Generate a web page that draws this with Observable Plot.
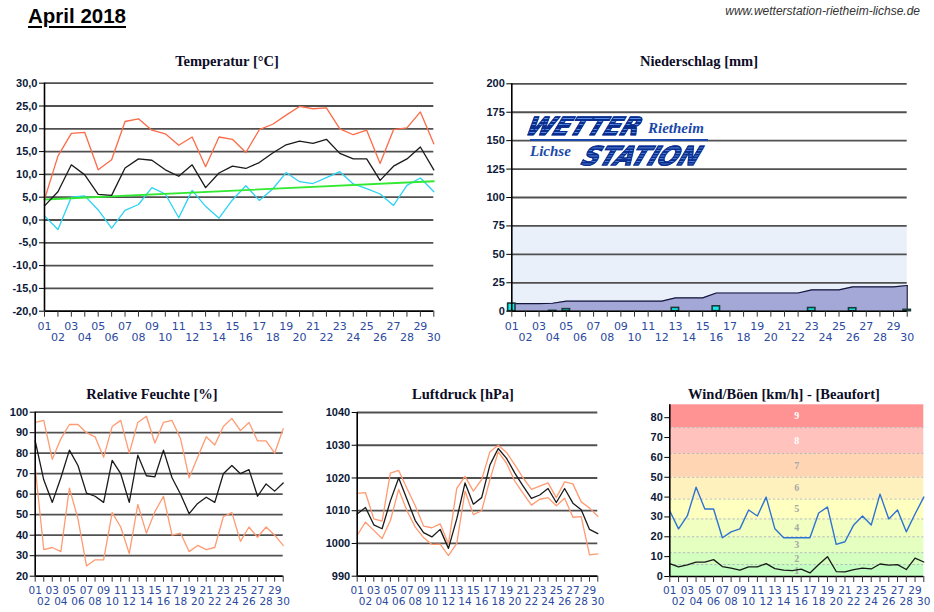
<!DOCTYPE html>
<html><head><meta charset="utf-8">
<script src="https://cdn.jsdelivr.net/npm/d3@7"></script>
<script src="https://cdn.jsdelivr.net/npm/@observablehq/plot@0.6"></script>
<style>
html,body{margin:0;padding:0;background:#fff;}
body{width:934px;height:612px;overflow:hidden;position:relative;font-family:"DejaVu Sans",sans-serif;}
.abs{position:absolute;}
.ptitle{position:absolute;font-family:"Liberation Serif",serif;font-weight:bold;font-size:14.5px;color:#0c0c26;white-space:nowrap;transform:translate(-50%,-50%);line-height:16px;}
.logo{position:absolute;white-space:nowrap;line-height:1;}
.big{font-family:"DejaVu Sans",sans-serif;font-weight:900;font-style:italic;letter-spacing:0px;
 background:repeating-linear-gradient(180deg,#0a2c8c 0px,#0a2c8c 1.7px,#5a90e6 1.7px,#5a90e6 2.7px);
 -webkit-background-clip:text;background-clip:text;color:transparent;-webkit-text-stroke:1.1px #0b2d8e;transform-origin:left top;}
.small{font-family:"Liberation Serif",serif;font-weight:bold;font-style:italic;color:#1a48a8;}
</style></head><body>
<script>
// ---------- data ----------
const days = [1,2,3,4,5,6,7,8,9,10,11,12,13,14,15,16,17,18,19,20,21,22,23,24,25,26,27,28,29,30];
const dayLabels = ["01","02","03","04","05","06","07","08","09","10","11","12","13","14","15","16","17","18","19","20","21","22","23","24","25","26","27","28","29","30"];

// Temperatur [°C]
const tempTicks = [-20,-15,-10,-5,0,5,10,15,20,25,30];
const tMax  = [4.5,14.0,19.0,19.2,11.0,13.2,21.6,22.2,19.7,18.9,16.4,18.2,11.7,18.2,17.7,14.8,19.8,21.0,23.0,24.9,24.4,24.6,20.0,18.7,19.7,12.4,19.8,20.2,23.7,16.7];
const tMean = [3.1,6.2,12.1,9.9,5.6,5.4,11.4,13.4,13.1,11.0,9.6,12.1,7.1,10.3,11.8,11.3,12.6,14.7,16.5,17.3,16.8,17.7,14.6,13.4,13.4,8.7,11.8,13.4,16.0,11.0];
const tMin  = [0.9,-2.1,5.0,5.3,2.2,-1.8,2.1,3.4,7.1,5.7,0.5,6.5,3.0,0.4,4.4,7.5,4.3,6.8,10.4,8.4,8.0,9.3,10.6,7.9,6.9,5.7,3.2,7.6,9.2,6.2];
const trendDays = [1,30];
const trendValues = [4.5,8.5];

// Niederschlag [mm]
const precipTicks = [0,25,50,75,100,125,150,175,200];
const precipBand = [0,75];
const precipDaily = [6.7,0,0,0.3,1.8,0,0,0,0,0,0,0,2.9,0,0,4.3,0,0,0,0,0,0,2.8,0,0,2.6,0,0,0,1.2];
const precipSum   = [6.7,6.7,6.7,7.0,8.8,8.8,8.8,8.8,8.8,8.8,8.8,8.8,11.7,11.7,11.7,16.0,16.0,16.0,16.0,16.0,16.0,16.0,18.8,18.8,18.8,21.4,21.4,21.4,21.4,22.6];

// Relative Feuchte [%]
const humTicks = [20,30,40,50,60,70,80,90,100];
const hMax  = [95,96,77,87,94,94,90,88,78,93,96,80,95,98,85,95,96,87,68,78,88,84,93,97,91,95,86,86,80,92];
const hMean = [86,67,56,68,81.5,74,60.5,59,56,76.5,70,56,79,69,68.5,81.5,68,60,50.5,55.5,58.5,56,70,74,70,72,59,65,61.5,65.5];
const hMin  = [73,33,34,32,63,48,25,28,28,51,44,31,55,41,51.5,59,40,41,32,35,33,34,49,51,37,44,39,44,40,35];

// Luftdruck [hPa]
const presTicks = [990,1000,1010,1020,1030,1040];
const pMax  = [1015.3,1015.5,1007.5,1006.8,1021.5,1022.3,1016.8,1011.5,1005.3,1004.8,1006.0,999.8,1016.8,1020.5,1016.0,1019.5,1028.0,1030.0,1027.8,1024.0,1020.0,1016.5,1017.5,1018.5,1014.0,1018.8,1018.2,1012.7,1010.8,1008.3];
const pMean = [1009.0,1011.0,1005.7,1004.5,1013.0,1020.0,1013.5,1007.0,1003.3,1002.0,1004.3,998.5,1007.5,1018.5,1012.0,1014.0,1024.0,1029.0,1026.0,1021.5,1017.5,1013.8,1014.8,1016.8,1012.5,1016.8,1012.3,1010.3,1004.3,1003.0];
const pMin  = [1002.5,1006.5,1004.0,1001.5,1007.0,1016.5,1010.0,1005.0,1001.8,999.7,999.8,996.3,1000.0,1016.0,1008.8,1010.0,1019.5,1028.0,1024.5,1019.0,1015.3,1011.7,1013.5,1014.0,1011.5,1013.8,1008.0,1008.2,996.5,996.8];

// Wind/Böen [km/h]
const windTicks = [0,10,20,30,40,50,60,70,80];
const gusts = [33,24,30.5,45,34,34,19.5,22.5,24,33.5,30.5,40,24,19.5,19.5,19.5,19.5,32,35,16.2,17.5,26,30.5,26,41.5,29,33.5,22.5,31.5,40];
const wind  = [6.5,4.8,5.8,7.2,7.2,8.5,5.0,4.2,3.2,4.8,4.8,6.5,4.0,3.2,3.0,3.7,1.8,6.0,10.0,2.5,2.3,3.5,4.2,3.8,6.3,5.7,6.0,3.5,9.3,7.3];
const beaufortNames = ["1","2","3","4","5","6","7","8","9"];
const beaufortLo = [0,6,12,20,29,39,50,62,75];
const beaufortHi = [6,12,20,29,39,50,62,75,86.5];
const beaufortColors = ["#c4fec0","#d4ffbe","#e4ffbf","#f1ffc0","#ffffc0","#fff1bd","#ffd5b4","#ffc2bc","#ff9393"];
const beaufortText = ["#a8a8a8","#a8a8a8","#a8a8a8","#a8a8a8","#a8a8a8","#a8a8a8","#a8a8a8","#ffffff","#ffffff"];

// ---------- helpers ----------
const oddDays = days.filter(d => d % 2 === 1);
const evenDays = days.filter(d => d % 2 === 0);
const lbl = d => dayLabels[days.indexOf(d)];

function panel(o) {
  const marks = [];
  (o.under || []).forEach(m => marks.push(m));
  if (o.grid !== false) marks.push(Plot.ruleY(o.yTicks, {stroke: "#505050", strokeWidth: 1.8}));
  (o.marks || []).forEach(m => marks.push(m));
  marks.push(Plot.ruleY([o.yDomain[0]], {stroke: "#000", strokeWidth: 1.6}));
  marks.push(Plot.ruleX([1], {stroke: "#000", strokeWidth: 1.6}));
  marks.push(Plot.axisY({ticks: o.yTicks, tickSize: 5, tickFormat: () => "", stroke: "#000", label: null}));
  marks.push(Plot.axisY({ticks: o.yTicks, tickSize: 0, tickPadding: o.yPad || 7, tickFormat: o.yFmt, fill: "#0b1838",
    fontSize: 11, fontWeight: "bold", fontFamily: "Liberation Sans", label: null}));
  marks.push(Plot.axisX({ticks: days, tickSize: 6, tickFormat: () => "", stroke: "#333", label: null}));
  marks.push(Plot.axisX({ticks: oddDays, tickSize: 0, tickPadding: o.p1, tickFormat: lbl, fill: "#2b4a9e",
    fontSize: o.fs, fontFamily: "DejaVu Sans", label: null}));
  marks.push(Plot.axisX({ticks: evenDays, tickSize: 0, tickPadding: o.p2, tickFormat: lbl, fill: "#2b4a9e",
    fontSize: o.fs, fontFamily: "DejaVu Sans", label: null}));
  const svg = Plot.plot({
    width: o.width, height: o.height,
    marginLeft: o.mL, marginRight: o.mR, marginTop: o.mT, marginBottom: o.mB,
    x: {type: "linear", domain: [1, 30]},
    y: {type: "linear", domain: o.yDomain},
    style: {background: "transparent", overflow: "visible", fontFamily: "DejaVu Sans"},
    marks
  });
  svg.style.position = "absolute";
  svg.style.left = o.left + "px";
  svg.style.top = o.top + "px";
  document.body.appendChild(svg);
}

function div(cls, text, css) {
  const e = document.createElement("div");
  e.className = cls;
  e.textContent = text;
  Object.assign(e.style, css);
  document.body.appendChild(e);
  return e;
}

// ---------- Temperatur ----------
panel({
  left: 0, top: 70, width: 460, height: 280, mL: 44, mR: 26.7, mT: 12.7, mB: 39.3,
  yDomain: [-20, 30], yTicks: tempTicks, yFmt: d => d.toFixed(1).replace(".", ","),
  fs: 11, p1: 10.5, p2: 22,
  marks: [
    Plot.lineY(tMin, {x: days, stroke: "#2bd3f5", strokeWidth: 1.3}),
    Plot.line(trendDays.map((d, i) => ({d, v: trendValues[i]})), {x: "d", y: "v", stroke: "#33e833", strokeWidth: 1.8}),
    Plot.lineY(tMean, {x: days, stroke: "#1a1a1a", strokeWidth: 1.3}),
    Plot.lineY(tMax, {x: days, stroke: "#fb6b48", strokeWidth: 1.3})
  ]
});

// ---------- Niederschlag ----------
const precipRows = days.map((d, i) => ({d, mm: precipDaily[i]})).filter(r => r.mm > 0);
panel({
  left: 470, top: 70, width: 460, height: 280, mL: 41.3, mR: 23.3, mT: 13.3, mB: 39.3,
  yDomain: [0, 200], yTicks: precipTicks, yFmt: d => String(d),
  fs: 11, p1: 10.5, p2: 22,
  under: [Plot.rect([precipBand], {y1: b => b[0], y2: b => b[1], fill: "#e9f0fa"})],
  marks: [
    Plot.areaY(precipSum, {x: days, fill: "#a3a8d7"}),
    Plot.lineY(precipSum, {x: days, stroke: "#15153a", strokeWidth: 1.2}),
    Plot.ruleX([30], {y1: 0, y2: precipSum[29], stroke: "#15153a", strokeWidth: 1.2}),
    Plot.rect(precipRows, {x1: r => r.d - 0.27, x2: r => r.d + 0.27, y1: 0, y2: "mm", fill: "#12eaea", stroke: "#1d3a3a", strokeWidth: 1.6})
  ]
});

// ---------- Relative Feuchte ----------
panel({
  left: 0, top: 400, width: 310, height: 212, mL: 34.7, mR: 27.3, mT: 11.7, mB: 36.3,
  yDomain: [20, 100], yTicks: humTicks, yFmt: d => String(d),
  fs: 10.5, p1: 10, p2: 21,
  marks: [
    Plot.lineY(hMin, {x: days, stroke: "#ff9a72", strokeWidth: 1.3}),
    Plot.lineY(hMax, {x: days, stroke: "#ff9a72", strokeWidth: 1.3}),
    Plot.lineY(hMean, {x: days, stroke: "#1a1a1a", strokeWidth: 1.3})
  ]
});

// ---------- Luftdruck ----------
panel({
  left: 310, top: 400, width: 310, height: 212, mL: 46.7, mR: 22.7, mT: 12, mB: 36.3,
  yDomain: [990, 1040], yTicks: presTicks, yFmt: d => String(d),
  fs: 10.5, p1: 10, p2: 21,
  marks: [
    Plot.lineY(pMin, {x: days, stroke: "#ff9a72", strokeWidth: 1.3}),
    Plot.lineY(pMax, {x: days, stroke: "#ff9a72", strokeWidth: 1.3}),
    Plot.lineY(pMean, {x: days, stroke: "#1a1a1a", strokeWidth: 1.3})
  ]
});

// ---------- Wind ----------
const bft = beaufortNames.map((n, i) => ({n, lo: beaufortLo[i], hi: beaufortHi[i], c: beaufortColors[i], t: beaufortText[i]}));
panel({
  left: 620, top: 395, width: 314, height: 217, mL: 49.3, mR: 10.7, mT: 9.3, mB: 36,
  yDomain: [0, 86.5], yTicks: windTicks, yFmt: d => String(d), grid: false,
  fs: 10.5, p1: 10, p2: 21,
  under: [
    Plot.rect(bft, {y1: "lo", y2: "hi", fill: "c"}),
    Plot.ruleY(bft.slice(1), {y: "lo", stroke: "#b4b4b4", strokeWidth: 0.9, strokeDasharray: "2.5,2"}),
    Plot.text(bft, {y: b => (b.lo + b.hi) / 2, text: "n", fill: "t", fontSize: 10, fontWeight: "bold", fontFamily: "Liberation Serif"})
  ],
  marks: [
    Plot.lineY(gusts, {x: days, stroke: "#2f73d2", strokeWidth: 1.4}),
    Plot.lineY(wind, {x: days, stroke: "#1a1a1a", strokeWidth: 1.3})
  ]
});

// ---------- titles & header ----------
div("abs", "April 2018", {left: "28px", top: "4px", fontFamily: "Liberation Sans", fontWeight: "bold", fontSize: "20.5px",
  textDecoration: "underline", textUnderlineOffset: "3px", textDecorationThickness: "2px", color: "#000", lineHeight: "24px", whiteSpace: "nowrap"});
div("abs", "www.wetterstation-rietheim-lichse.de", {right: "14px", top: "3px", fontFamily: "Liberation Sans", fontStyle: "italic",
  fontSize: "12px", color: "#333", whiteSpace: "nowrap", lineHeight: "16px"});
div("ptitle", "Temperatur [°C]", {left: "227px", top: "61px"});
div("ptitle", "Niederschlag [mm]", {left: "699px", top: "61px"});
div("ptitle", "Relative Feuchte [%]", {left: "152px", top: "394px"});
div("ptitle", "Luftdruck [hPa]", {left: "463px", top: "394px"});
div("ptitle", "Wind/Böen [km/h] - [Beaufort]", {left: "784px", top: "394px"});

// ---------- logo ----------
div("logo big", "WETTER", {left: "533px", top: "113.5px", fontSize: "25px", transform: "skewX(-22deg) scale(0.98,1.0)"});
div("logo small", "Rietheim", {left: "648px", top: "121px", fontSize: "15px"});
div("abs", "", {left: "530px", top: "138.5px", width: "178px", height: "2.4px", background: "#1a48a8"});
div("logo small", "Lichse", {left: "530px", top: "144px", fontSize: "15px"});
div("logo big", "STATION", {left: "589px", top: "143px", fontSize: "26px", transform: "skewX(-22deg) scale(0.95,1.0)"});
</script>
</body></html>
